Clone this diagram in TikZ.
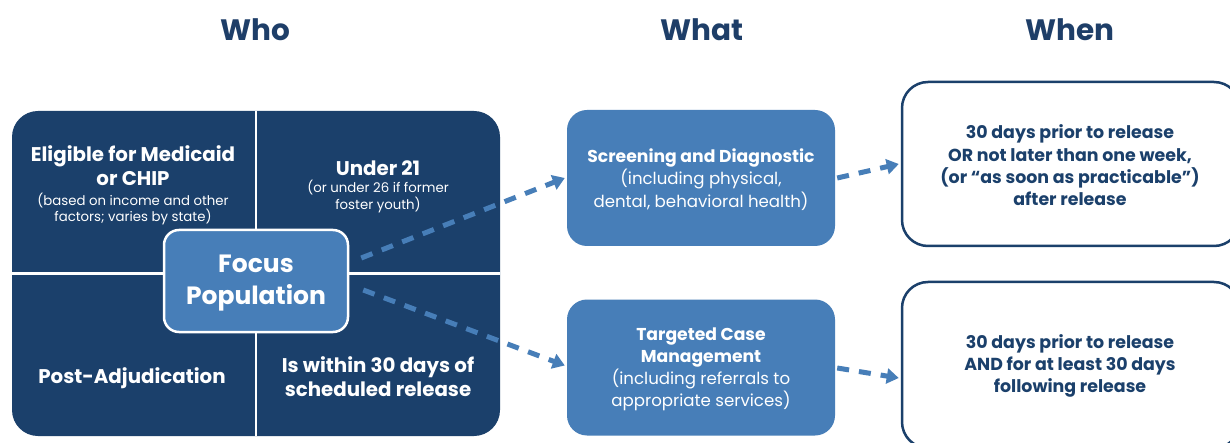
\documentclass[tikz,border=0pt]{standalone}
\usepackage{fontspec}
\setmainfont{Poppins}
\usetikzlibrary{arrows.meta}
\definecolor{navy}{HTML}{1B406B}
\definecolor{midblue}{HTML}{477EB8}
\definecolor{headc}{HTML}{1E3E68}
\tikzset{
  head/.style={text=headc, font=\bfseries\fontsize{29.5}{34}\selectfont},
  celltitle/.style={text=white, align=center, font=\bfseries\fontsize{19.8}{24}\selectfont},
  cellsub/.style={text=white, align=center, font=\fontsize{13.3}{16.5}\selectfont},
  whatbox/.style={fill=midblue, rounded corners=20pt, minimum width=268pt, minimum height=136pt, inner sep=0pt},
  whatbold/.style={text=white, align=center, font=\bfseries\fontsize{17.2}{21.5}\selectfont},
  whattext/.style={text=white, align=center, font=\fontsize{16.6}{22.5}\selectfont},
  whenbox/.style={draw=navy, line width=2.5pt, fill=white, rounded corners=26pt, minimum width=338pt, inner sep=0pt},
  whentext/.style={text=navy, align=center, font=\bfseries\fontsize{17.4}{22.3}\selectfont},
  flow/.style={draw=midblue, line width=5pt, dash pattern=on 12pt off 10pt, -{Triangle[length=12pt,width=15pt]}},
}
\begin{document}
\begin{tikzpicture}[x=1pt,y=-1pt]
\clip (0,0) rectangle (1230,443);
\fill[white] (0,0) rectangle (1230,443);
% headers
\node[head] (who) at (255,30) {Who};
\node[head] (what) at (702,30) {What};
\node[head] (when) at (1070,30) {When};
% big who box
\node[fill=navy, rounded corners=26pt, minimum width=488pt, minimum height=325pt, inner sep=0pt] (whobox) at (256,273.5) {};
\draw[white, line width=2.5pt] (whobox.north) -- (whobox.south);
\draw[white, line width=2.5pt] (whobox.west) -- (whobox.east);
% cells
\node[celltitle] (eligt) at (133,165.5) {Eligible for Medicaid\\or CHIP};
\node[cellsub] (eligs) at (133,209) {(based on income and other\\factors; varies by state)};
\node[celltitle] (undert) at (378,168) {Under 21};
\node[cellsub] (unders) at (378,196.5) {(or under 26 if former\\foster youth)};
\node[celltitle] (post) at (132,378) {Post-Adjudication};
\node[celltitle] (within) at (378,376.5) {Is within 30 days of\\scheduled release};
% focus
\node[fill=midblue, draw=white, line width=2.5pt, rounded corners=15pt, minimum width=184pt, minimum height=102pt, inner sep=0pt] (focus) at (256,281) {};
\node[text=white, align=center, font=\bfseries\fontsize{25}{32}\selectfont] (focust) at (256,283.5) {Focus\\Population};
% what boxes
\node[whatbox] (scr) at (701,178) {};
\node[whatbold] (scrt) at (701,157.5) {Screening and Diagnostic};
\node[whattext] (scrs) at (701,190) {(including physical,\\dental, behavioral health)};
\node[whatbox] (tcm) at (701,367.5) {};
\node[whatbold] (tcmt) at (701,347.5) {Targeted Case\\Management};
\node[whattext] (tcms) at (701,390) {(including referrals to\\appropriate services)};
% when boxes
\node[whenbox, minimum height=164pt] (when1) at (1071,164) {};
\node[whentext] (when1t) at (1070,165.5) {30 days prior to release\\OR not later than one week,\\(or “as soon as practicable”)\\after release};
\node[whenbox, minimum height=166pt] (when2) at (1071,365) {};
\node[whentext] (when2t) at (1070,366) {30 days prior to release\\AND for at least 30 days\\following release};
% connectors
\draw[flow] ([xshift=12pt,yshift=23pt]focus.east) -- ([xshift=-2pt]scr.west);
\draw[flow] ([xshift=14pt,yshift=-9pt]focus.east) -- ([xshift=-2pt,yshift=2pt]tcm.west);
\draw[flow] ([xshift=2pt]scr.east) -- ([xshift=-2pt]when1.west);
\draw[flow] ([xshift=2pt,yshift=-0.5pt]tcm.east) -- ([xshift=-2pt,yshift=-13pt]when2.west);
\end{tikzpicture}
\end{document}
